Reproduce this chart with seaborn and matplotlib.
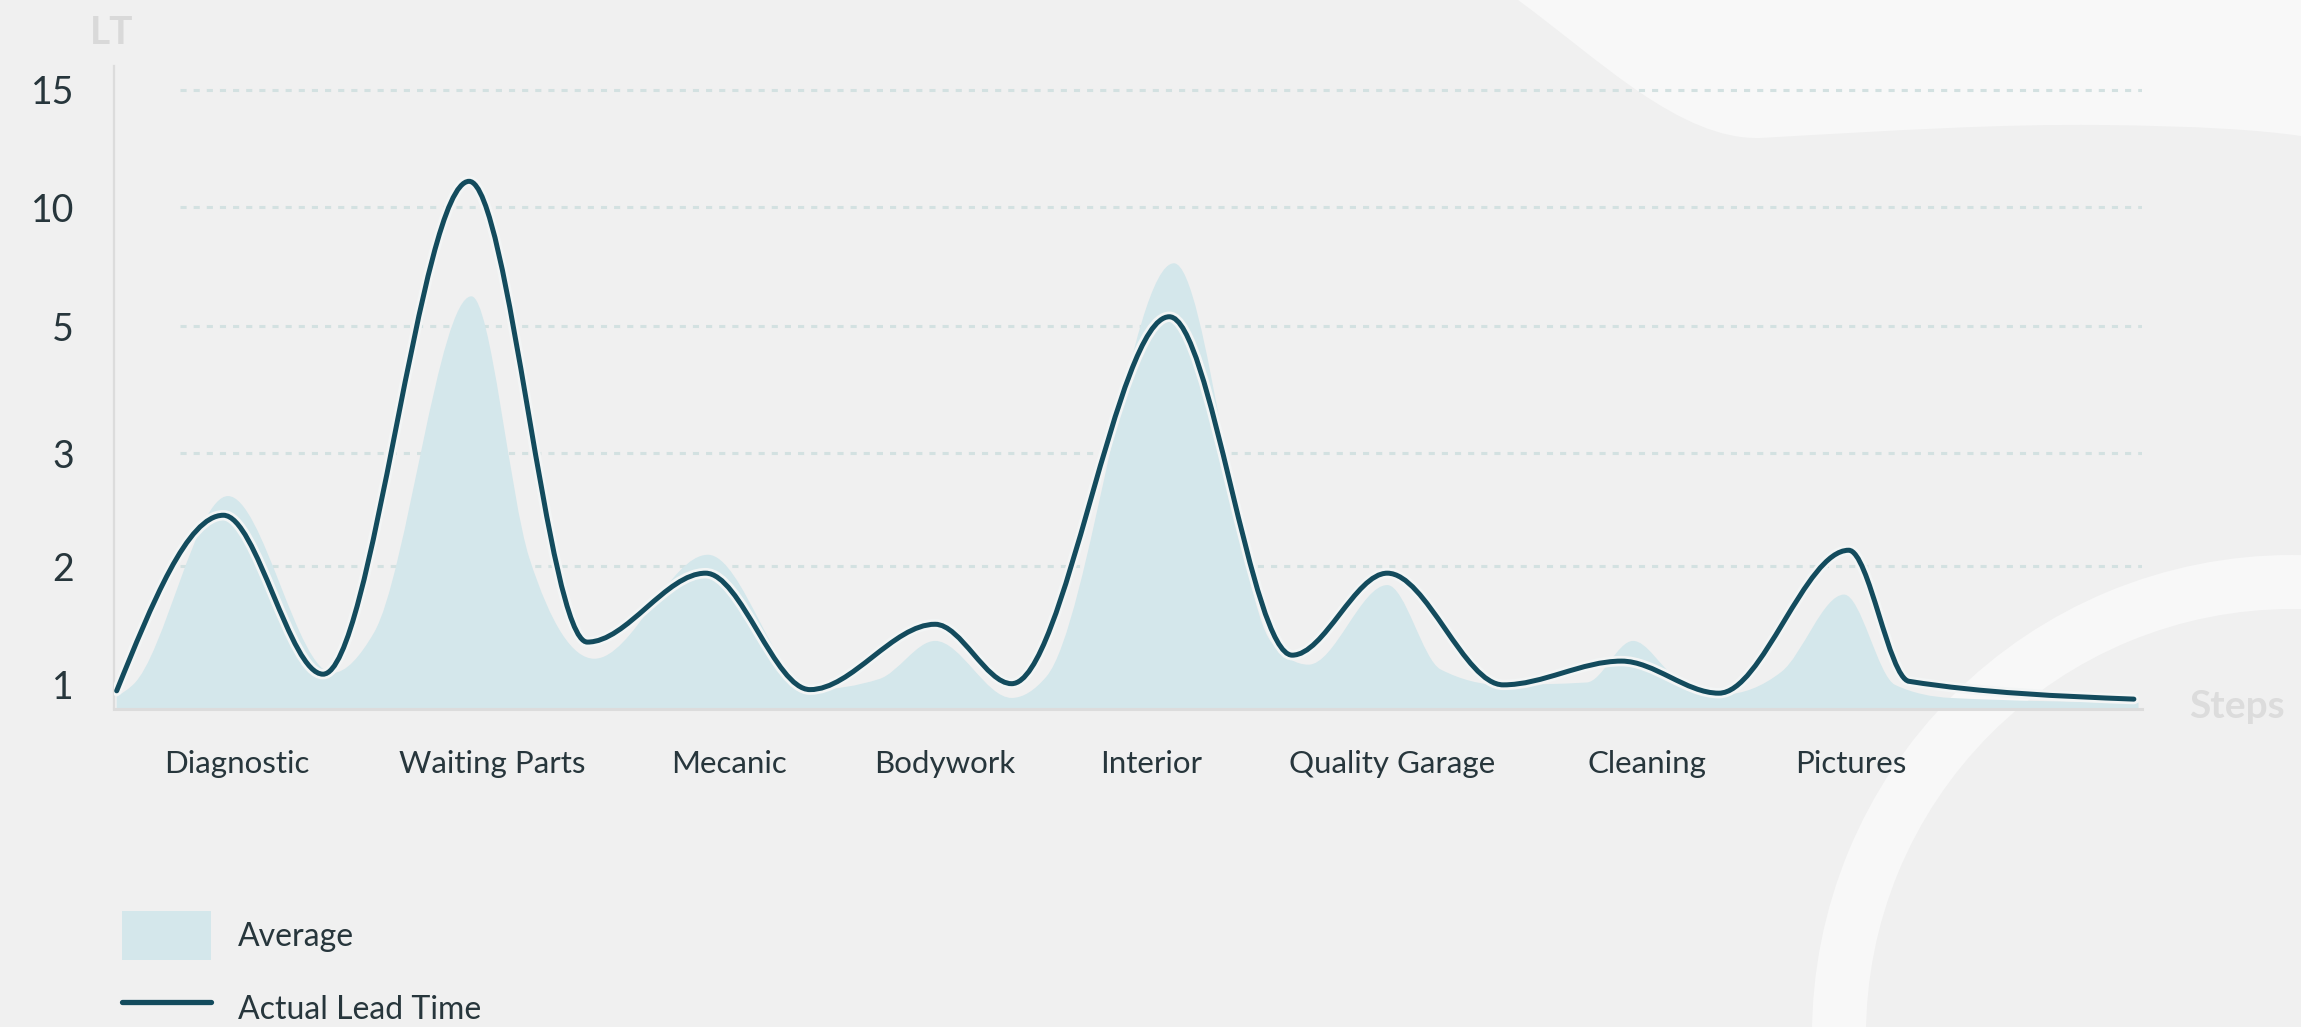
import numpy as np
import matplotlib
matplotlib.use("Agg")
import matplotlib.pyplot as plt
import matplotlib.patheffects as pe
from matplotlib.path import Path
from matplotlib.patches import PathPatch, Patch, Wedge
from matplotlib.lines import Line2D
import seaborn as sns

# ---- data ----
steps = ["Diagnostic", "Waiting Parts", "Mecanic", "Bodywork", "Interior",
         "Quality Garage", "Cleaning", "Pictures"]
step_pos = [0.53, 1.63, 2.65, 3.58, 4.47, 5.51, 6.61, 7.49]

# uneven lead-time axis: each level gets its own slot
lt_levels = [0, 1, 2, 3, 5, 10, 15, 20]
lt_slots = [-1, 0, 1.0, 1.95, 3.02, 4.02, 5.01, 6.0]
lt_ticks = [1, 2, 3, 5, 10, 15]
grid_levels = [2, 3, 5, 10, 15]

actual_x = [0.01, 0.47, 0.90, 1.53, 2.04, 2.55, 3.00, 3.54, 3.87, 4.55,
            5.08, 5.49, 5.99, 6.50, 6.92, 7.48, 7.74, 8.71]
actual_lt = [0.95, 2.45, 1.09, 11.1, 1.36, 1.94, 0.96, 1.51, 1.01, 5.39,
             1.25, 1.94, 1.00, 1.20, 0.93, 2.14, 1.03, 0.88]

avg_x = [0.01, 0.08, 0.49, 0.94, 1.12, 1.54, 1.79, 2.07, 2.56, 3.01, 3.30,
         3.54, 3.87, 4.02, 4.57, 4.99, 5.15, 5.49, 5.72, 5.98, 6.35, 6.55,
         6.73, 6.94, 7.19, 7.46, 7.68, 7.92, 8.73]
avg_lt = [0.90, 1.00, 2.62, 1.10, 1.44, 6.25, 2.07, 1.22, 2.10, 0.96, 1.05,
          1.37, 0.89, 1.07, 7.64, 1.36, 1.17, 1.84, 1.13, 1.00, 1.02, 1.37,
          1.07, 0.92, 1.11, 1.76, 1.00, 0.89, 0.85]

# ---- style ----
bg = "#f0f0f0"
shape_c = "#f8f8f8"
line_c = "#134b5d"
fill_c = "#d4e7eb"
text_c = "#27363c"
grid_c = "#d3e1e1"
axis_c = "#dcdcdc"

sns.set_theme(style="white", rc={"figure.facecolor": bg, "axes.facecolor": "none"})
plt.rcParams["font.family"] = ["Lato", "DejaVu Sans"]


def to_slot(v):
    return np.interp(v, lt_levels, lt_slots)


def from_slot(s):
    return np.interp(s, lt_slots, lt_levels)


def smooth_path(xs, vals):
    # monotone cubic bezier (like d3 curveMonotoneX), worked out in slot space
    x = np.asarray(xs, float)
    y = to_slot(np.asarray(vals, float))
    h = np.diff(x)
    s = np.diff(y) / h
    t = np.zeros_like(x)
    for i in range(1, len(x) - 1):
        p = (s[i - 1] * h[i] + s[i] * h[i - 1]) / (h[i - 1] + h[i])
        t[i] = (np.sign(s[i - 1]) + np.sign(s[i])) * min(abs(s[i - 1]), abs(s[i]), 0.5 * abs(p))
    t[0] = (3 * s[0] - t[1]) / 2
    t[-1] = (3 * s[-1] - t[-2]) / 2
    vx, vy = [x[0]], [y[0]]
    codes = [Path.MOVETO]
    for i in range(len(x) - 1):
        d = h[i] / 3
        vx += [x[i] + d, x[i + 1] - d, x[i + 1]]
        vy += [y[i] + d * t[i], y[i + 1] - d * t[i + 1], y[i + 1]]
        codes += [Path.CURVE4] * 3
    return vx, list(from_slot(np.array(vy))), codes


fig = plt.figure(figsize=(23.01, 10.27), dpi=100)

# background decoration
bgax = fig.add_axes([0, 0, 1, 1], zorder=-10)
bgax.set_xlim(0, 2301)
bgax.set_ylim(1027, 0)
bgax.axis("off")
blob = Path([(1518, 0), (1600, 60), (1680, 140), (1760, 138),
             (1900, 130), (2000, 124), (2100, 125),
             (2200, 126), (2260, 130), (2301, 136),
             (2301, 0), (1518, 0)],
            [Path.MOVETO] + [Path.CURVE4] * 9 + [Path.LINETO, Path.CLOSEPOLY])
bgax.add_patch(PathPatch(blob, facecolor=shape_c, edgecolor="none"))
bgax.add_patch(Wedge((2292, 1035), 480, 0, 360, width=54, facecolor=shape_c, edgecolor="none"))

ax = fig.add_axes([0.0497, 0.31, 0.8814, 0.6257])
ax.set_yscale("function", functions=(to_slot, from_slot))
ax.set_xlim(0, 8.747)
ax.set_ylim(0.80, 16.0)

# dotted guides
ax.hlines(grid_levels, 0.285, 8.747, colors=grid_c, linewidth=2.2,
          linestyles=(0, (2, 2.3)), zorder=1)

# average area
fx, fy, fc = smooth_path(avg_x, avg_lt)
fx += [avg_x[-1], avg_x[0], avg_x[0]]
fy += [0.5, 0.5, fy[0]]
fc += [Path.LINETO, Path.LINETO, Path.CLOSEPOLY]
ax.add_patch(PathPatch(Path(np.column_stack([fx, fy]), fc),
                       facecolor=fill_c, edgecolor="none", zorder=2))

# actual lead time line
lx, ly, lc = smooth_path(actual_x, actual_lt)
ax.add_patch(PathPatch(Path(np.column_stack([lx, ly]), lc), facecolor="none",
                       edgecolor=line_c, linewidth=3.6, capstyle="round", zorder=3,
                       path_effects=[pe.Stroke(linewidth=7.5, foreground="#f3f5f5"),
                                     pe.Normal()]))

sns.despine(ax=ax)
ax.spines["left"].set_color(axis_c)
ax.spines["left"].set_linewidth(1.6)
ax.spines["bottom"].set_color(axis_c)
ax.spines["bottom"].set_linewidth(2.2)
ax.spines["bottom"].set_zorder(4)

ax.set_yticks(lt_ticks)
ax.set_yticklabels([str(v) for v in lt_ticks], fontsize=27, color=text_c)
ax.yaxis.set_minor_locator(matplotlib.ticker.NullLocator())
ax.set_xticks(step_pos)
ax.set_xticklabels(steps, fontsize=22.5, color=text_c)
ax.tick_params(axis="y", length=0, pad=29)
ax.tick_params(axis="x", length=0, pad=30)
ax.grid(False)

fig.text(0.0485, 0.957, "LT", fontsize=28, fontweight="bold", color="#d9d9d9",
         ha="center", va="baseline")
fig.text(0.972, 0.301, "Steps", fontsize=28, fontweight="bold", color="#dcdcdc",
         ha="center", va="baseline")

handles = [Patch(facecolor=fill_c, edgecolor="none"),
           Line2D([], [], color=line_c, linewidth=3.8)]
fig.legend(handles, ["Average", "Actual Lead Time"], loc="upper left",
           bbox_to_anchor=(0.053, 0.113), frameon=False, fontsize=23,
           labelcolor=text_c, handlelength=2.78, handleheight=2.0,
           labelspacing=0.75, handletextpad=0.85, borderpad=0, borderaxespad=0)

fig.savefig("out.png", dpi=100, facecolor=bg)
